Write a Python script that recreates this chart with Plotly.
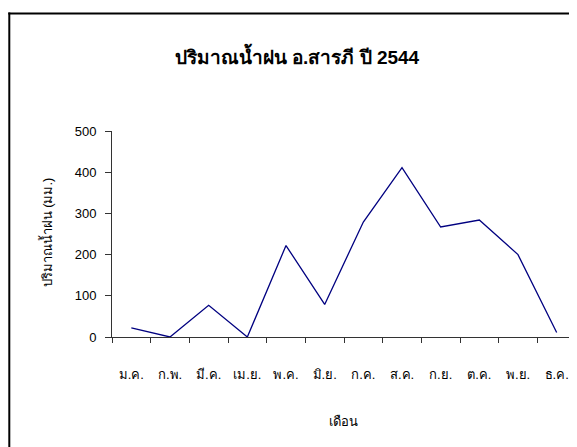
import plotly.graph_objects as go

months = ["ม.ค.", "ก.พ.", "มี.ค.", "เม.ย.", "พ.ค.", "มิ.ย.", "ก.ค.", "ส.ค.", "ก.ย.", "ต.ค.", "พ.ย.", "ธ.ค."]
rain_mm = [22, 0, 77, 0, 222, 79, 279, 411, 267, 284, 200, 11]
y_ticks = [0, 100, 200, 300, 400, 500]

title_text = "ปริมาณน้ำฝน อ.สารภี ปี 2544"
y_title = "ปริมาณน้ำฝน (มม.)"
x_title = "เดือน"

font_fam = "Arial, Liberation Sans, Tahoma, sans-serif"

L, T, R, B = 103.7, 122.7, 9.3, 118
PW, PH = 577 - L - R, 447 - T - B


def px_to_paper_x(px):
    return (px - L) / PW


def px_to_paper_y(py):
    return (T + PH - py) / PH


fig = go.Figure()
fig.add_trace(go.Scatter(
    x=months, y=rain_mm, mode="lines",
    line=dict(color="#000080", width=1.3),
    showlegend=False, hoverinfo="skip",
))

frame_line = dict(color="black", width=2)

fig.update_layout(
    width=577, height=447,
    margin=dict(l=L, r=R, t=T, b=B, autoexpand=False),
    paper_bgcolor="white", plot_bgcolor="white",
    font=dict(family=font_fam, size=13, color="black"),
    title=dict(text="<b>" + title_text + "</b>", x=289 / 577, xanchor="center",
               y=1 - 49 / 447, yanchor="middle", yref="container",
               font=dict(size=19, color="black")),
    xaxis=dict(
        type="category", showgrid=False, zeroline=False,
        showline=True, linecolor="#333333", linewidth=1,
        ticks="outside", ticklen=5, tickcolor="#333333", tickson="boundaries",
        ticklabelstandoff=25, tickfont=dict(size=13),
        range=[-0.5, 11.5], automargin=False,
    ),
    yaxis=dict(
        range=[0, 500], tickvals=y_ticks, showgrid=False, zeroline=False,
        showline=True, linecolor="#333333", linewidth=1,
        ticks="outside", ticklen=6, tickcolor="#333333",
        ticklabelstandoff=6, tickfont=dict(size=13), automargin=False,
    ),
    shapes=[
        dict(type="line", xref="paper", yref="paper",
             x0=px_to_paper_x(0), x1=px_to_paper_x(600),
             y0=px_to_paper_y(5), y1=px_to_paper_y(5),
             line=frame_line, layer="above"),
        dict(type="line", xref="paper", yref="paper",
             x0=px_to_paper_x(1), x1=px_to_paper_x(1),
             y0=px_to_paper_y(4), y1=px_to_paper_y(470),
             line=frame_line, layer="above"),
    ],
    annotations=[
        dict(text=y_title, xref="paper", yref="paper", x=px_to_paper_x(38), y=px_to_paper_y(224),
             textangle=-90, showarrow=False, font=dict(size=13),
             xanchor="center", yanchor="middle"),
        dict(text=x_title, xref="paper", yref="paper", x=px_to_paper_x(335), y=px_to_paper_y(414),
             showarrow=False, font=dict(size=13), xanchor="center", yanchor="middle"),
    ],
)

fig.write_html("out.html")
